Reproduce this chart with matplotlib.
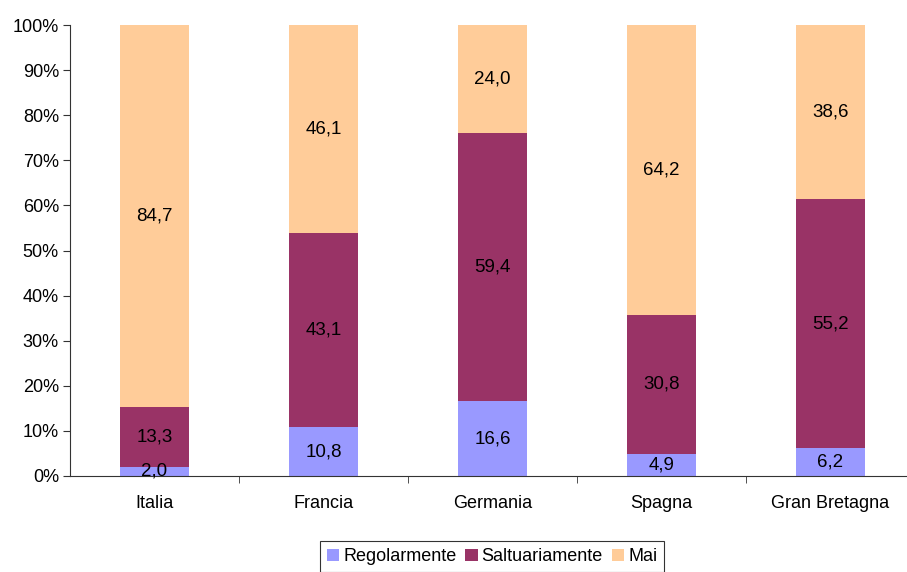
import numpy as np
import matplotlib.pyplot as plt

plt.rcParams['font.family'] = ['Liberation Sans', 'DejaVu Sans']

paesi = ['Italia', 'Francia', 'Germania', 'Spagna', 'Gran Bretagna']
serie = ['Regolarmente', 'Saltuariamente', 'Mai']
regolarmente = [2.0, 10.8, 16.6, 4.9, 6.2]
saltuariamente = [13.3, 43.1, 59.4, 30.8, 55.2]
mai = [84.7, 46.1, 24.0, 64.2, 38.6]
colori = ['#9999FF', '#993366', '#FFCC99']

dati = np.array([regolarmente, saltuariamente, mai])
perc = dati / dati.sum(axis=0) * 100

fig = plt.figure(figsize=(9.07, 5.72), dpi=100)
ax = fig.add_axes([70 / 907, 1 - 476 / 572, 845 / 907, 451 / 572])

x = np.arange(len(paesi))
base = np.zeros(len(paesi))
for i in range(3):
    ax.bar(x, perc[i], 0.41, bottom=base, color=colori[i], label=serie[i])
    for xi, v, p, b0 in zip(x, dati[i], perc[i], base):
        ax.text(xi, b0 + p / 2, f'{v:.1f}'.replace('.', ','), ha='center', va='center',
                fontsize=13.5, color='black')
    base = base + perc[i]

ax.set_xlim(-0.5, len(paesi) - 0.5)
ax.set_ylim(0, 100)
ax.set_yticks(np.arange(0, 101, 10))
ax.set_yticklabels([f'{v}%' for v in range(0, 101, 10)], fontsize=13)
ax.set_xticks(x)
ax.set_xticklabels(paesi, fontsize=13)
ax.set_xticks(np.arange(0.5, len(paesi) - 0.5, 1), minor=True)
ax.tick_params(axis='x', which='major', length=0, pad=14)
ax.tick_params(axis='x', which='minor', length=5, direction='out', color='#333333')
ax.tick_params(axis='y', length=5, direction='out', color='#333333', pad=3)
for s in ['top', 'right']:
    ax.spines[s].set_visible(False)
for s in ['left', 'bottom']:
    ax.spines[s].set_color('#333333')

leg = fig.legend(loc='upper center', bbox_to_anchor=(492 / 907, 1 - 532 / 572), ncol=3,
                 fontsize=13, frameon=True, fancybox=False, edgecolor='black',
                 handlelength=0.7, handleheight=0.7, handletextpad=0.2, columnspacing=0.5,
                 borderpad=0.4)
leg.get_frame().set_linewidth(0.8)

fig.savefig('out.png', dpi=100)
